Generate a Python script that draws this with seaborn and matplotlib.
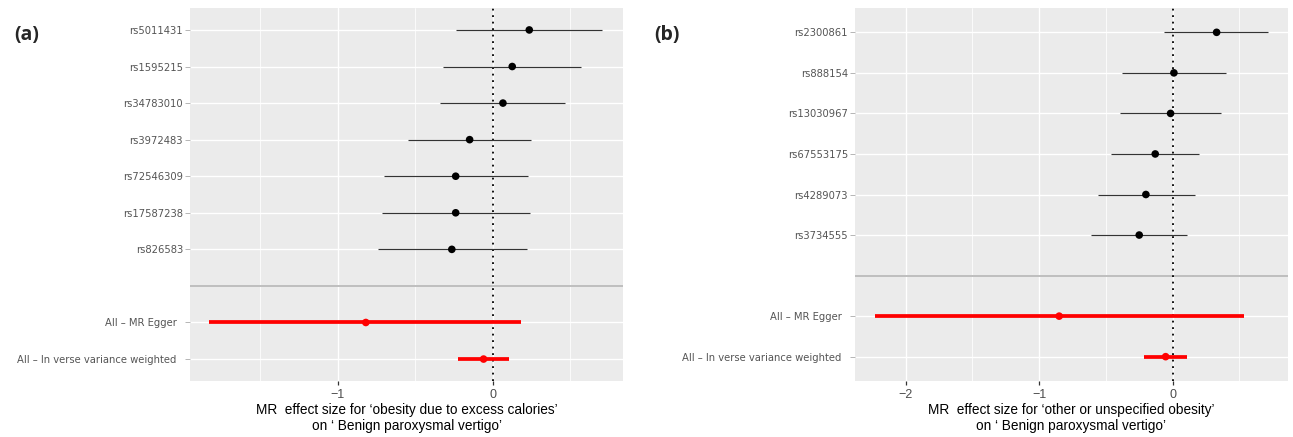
import numpy as np
import pandas as pd
import seaborn as sns
import matplotlib
matplotlib.use("Agg")
import matplotlib.pyplot as plt
from matplotlib.ticker import MultipleLocator, FixedLocator
from matplotlib import font_manager as fm

# ---------------- data ----------------
snps_a = ["rs5011431", "rs1595215", "rs34783010", "rs3972483",
          "rs72546309", "rs17587238", "rs826583"]
b_a = [0.235, 0.125, 0.065, -0.15, -0.24, -0.24, -0.265]
lo_a = [-0.24, -0.32, -0.34, -0.545, -0.70, -0.715, -0.74]
hi_a = [0.705, 0.572, 0.468, 0.245, 0.226, 0.237, 0.218]

methods = ["All – MR Egger", "All – In verse variance weighted"]
mb_a = [-0.82, -0.06]
mlo_a = [-1.83, -0.226]
mhi_a = [0.18, 0.107]

snps_b = ["rs2300861", "rs888154", "rs13030967", "rs67553175",
          "rs4289073", "rs3734555"]
b_b = [0.33, 0.01, -0.015, -0.13, -0.20, -0.25]
lo_b = [-0.063, -0.378, -0.395, -0.46, -0.56, -0.61]
hi_b = [0.716, 0.397, 0.362, 0.20, 0.17, 0.11]
mb_b = [-0.85, -0.052]
mlo_b = [-2.227, -0.212]
mhi_b = [0.534, 0.105]

xlab_a = "MR  effect size for \u2018obesity due to excess calories\u2019\non \u2018 Benign paroxysmal vertigo\u2019"
xlab_b = "MR  effect size for \u2018other or unspecified obesity\u2019\non \u2018 Benign paroxysmal vertigo\u2019"

# ---------------- style ----------------
sns.set_theme(style="white")
plt.rcParams["font.family"] = ["Liberation Sans", "DejaVu Sans"]

W, H = 1293, 437
fig = plt.figure(figsize=(W / 100, H / 100), dpi=100)

BG = "#EBEBEB"
names = {f.name for f in fm.fontManager.ttflist}
if "Liberation Sans Narrow" in names:
    label_fp = fm.FontProperties(family="Liberation Sans Narrow", size=9.2)
else:
    label_fp = fm.FontProperties(family="DejaVu Sans", stretch="condensed", size=8.0)


def panel(rect, snps, b, lo, hi, mb, mlo, mhi, xlim, xlabel):
    ax = fig.add_axes(rect)
    ax.set_facecolor(BG)
    for s in ax.spines.values():
        s.set_visible(False)

    rows = list(snps) + [""] + list(methods)
    n_s = len(snps)
    df = pd.DataFrame({"label": snps, "b": b, "lo": lo, "hi": hi,
                       "pos": np.arange(n_s)})
    dm = pd.DataFrame({"label": methods, "b": mb, "lo": mlo, "hi": mhi,
                       "pos": np.arange(len(methods)) + n_s + 1})

    # grid
    ax.set_axisbelow(True)
    ax.xaxis.set_major_locator(MultipleLocator(1))
    ax.xaxis.set_minor_locator(MultipleLocator(0.5))
    ax.grid(which="major", axis="x", color="white", lw=1.0)
    ax.grid(which="minor", axis="x", color="white", lw=0.55)
    ax.grid(which="major", axis="y", color="white", lw=1.0)

    # separator row
    ax.axhline(n_s, color="#BEBEBE", lw=1.4, zorder=1.5)
    # null line
    ax.axvline(0, color="black", lw=1.3, ls=(0, (1, 2.6)), zorder=1.6)

    ax.hlines(df["pos"], df["lo"], df["hi"], color="#333333", lw=0.85, zorder=2)
    sns.scatterplot(data=df, x="b", y="pos", color="black", s=30,
                    edgecolor="none", ax=ax, zorder=3, legend=False)
    ax.hlines(dm["pos"], dm["lo"], dm["hi"], color="#FF0000", lw=2.7, zorder=2)
    sns.scatterplot(data=dm, x="b", y="pos", color="#FF0000", s=30,
                    edgecolor="none", ax=ax, zorder=3, legend=False)

    ypos = list(df["pos"]) + list(dm["pos"])
    ylabels = list(df["label"]) + list(dm["label"])
    ax.yaxis.set_major_locator(FixedLocator(ypos))
    ax.set_yticklabels(ylabels, color="#555555", fontproperties=label_fp)
    ax.set_ylim(len(rows) - 1 + 0.6, -0.6)
    ax.set_xlim(*xlim)
    ax.set_xlabel(xlabel, fontsize=9.8, color="black", labelpad=2, linespacing=1.1)
    ax.set_ylabel("")
    ax.tick_params(axis="y", which="major", length=3.5, width=0.6, color="#AAAAAA", pad=1.5, left=True)
    ax.tick_params(axis="x", which="major", length=3, width=0.9, color="#333333",
                   labelsize=9, labelcolor="#4D4D4D", pad=2.5, bottom=True)
    ax.tick_params(axis="x", which="minor", length=0)
    ticks = ax.yaxis.get_major_ticks()
    for t, lab in zip(ticks, ylabels):
        if lab in methods:
            t.set_pad(6)
    return ax


top = 1 - 8 / H
bot = 1 - 381 / H
ax_a = panel([190 / W, bot, 433 / W, top - bot], snps_a, b_a, lo_a, hi_a,
             mb_a, mlo_a, mhi_a, (-1.955, 0.84), xlab_a)
ax_b = panel([855 / W, bot, 433 / W, top - bot], snps_b, b_b, lo_b, hi_b,
             mb_b, mlo_b, mhi_b, (-2.38, 0.865), xlab_b)

fig.text(14 / W, 1 - 35 / H, "(a)", fontsize=14, fontweight="bold",
         family=["Open Sans", "DejaVu Sans"], va="center", ha="left")
fig.text(654 / W, 1 - 35 / H, "(b)", fontsize=14, fontweight="bold",
         family=["Open Sans", "DejaVu Sans"], va="center", ha="left")

fig.savefig("out.png", dpi=100)
